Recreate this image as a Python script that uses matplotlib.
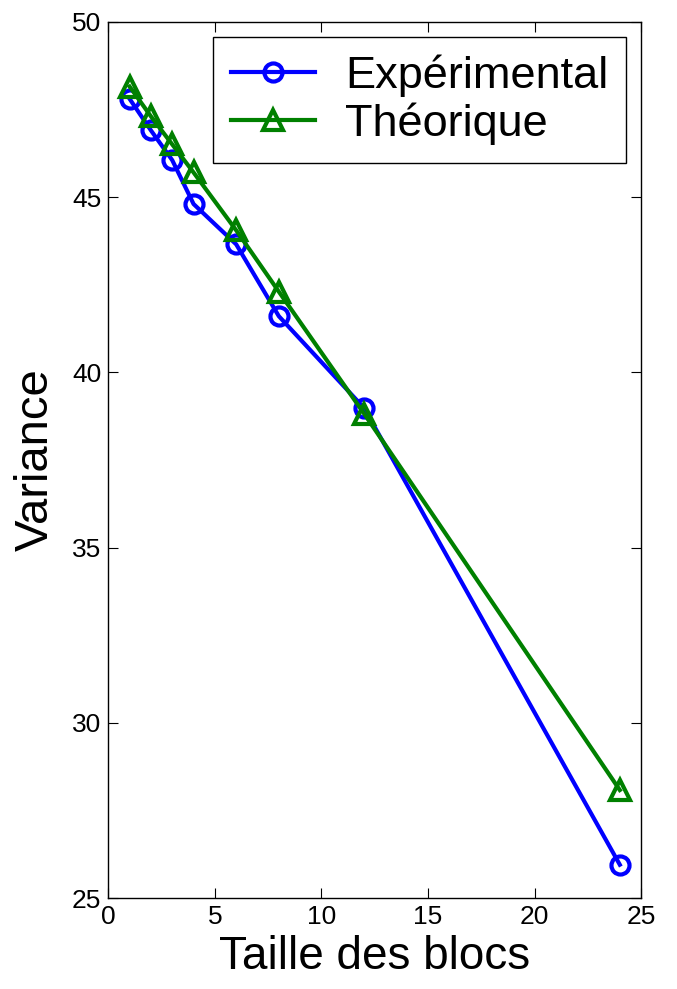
import matplotlib
matplotlib.use('Agg')
import matplotlib.pyplot as plt

plt.rcParams['font.family'] = ['Liberation Sans', 'DejaVu Sans']

taille = [1, 2, 3, 4, 6, 8, 12, 24]
var_exp = [47.8, 46.9, 46.05, 44.8, 43.65, 41.6, 38.98, 25.95]
var_theo = [48.15, 47.3, 46.5, 45.7, 44.05, 42.3, 38.82, 28.08]

fig = plt.figure(figsize=(6.77, 9.89), dpi=100)
ax = fig.add_axes([0.16, 0.092, 0.787, 0.886])

ax.plot(taille, var_exp, '-o', color='#0000ff', lw=3, ms=13,
        mfc='none', mew=3, label='Expérimental')
ax.plot(taille, var_theo, '-^', color='#008000', lw=3, ms=14,
        mfc='none', mew=3, label='Théorique')

ax.set_xlim(0, 25)
ax.set_ylim(25, 50)
ax.set_xticks([0, 5, 10, 15, 20, 25])
ax.set_yticks([25, 30, 35, 40, 45, 50])
ax.tick_params(direction='in', top=True, right=True, length=7,
               labelsize=19, pad=5)
for s in ax.spines.values():
    s.set_linewidth(1)

ax.set_xlabel('Taille des blocs', fontsize=33, labelpad=4)
ax.set_ylabel('Variance', fontsize=34, labelpad=10)

leg = ax.legend(loc='upper right', fontsize=32.5, fancybox=False,
                edgecolor='black', framealpha=1, handlelength=1.85,
                borderaxespad=0.33, handletextpad=0.67, labelspacing=0.12,
                borderpad=0.4)
leg.get_frame().set_linewidth(1)

fig.savefig('out.png', dpi=100)
